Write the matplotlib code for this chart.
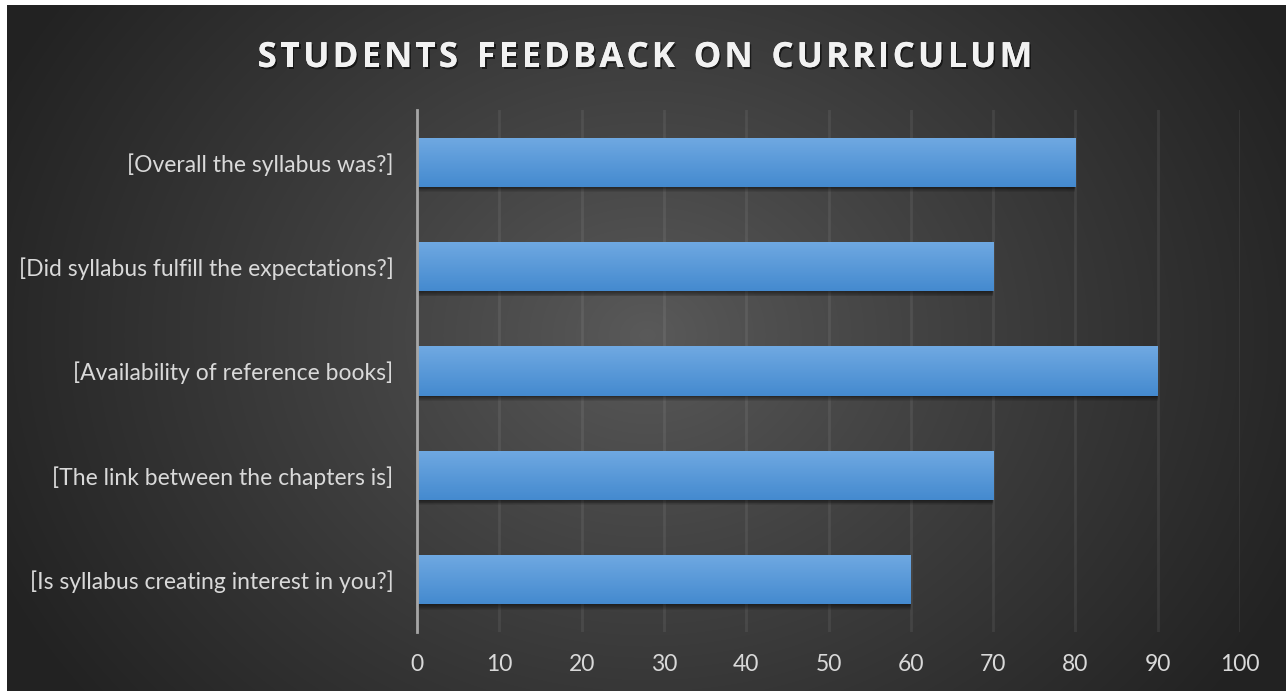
import numpy as np
import matplotlib
matplotlib.use("Agg")
import matplotlib.pyplot as plt
import matplotlib.patheffects as pe

categories = ["[Overall the syllabus was?]",
              "[Did syllabus fulfill the expectations?]",
              "[Availability of reference books]",
              "[The link between the chapters is]",
              "[Is syllabus creating interest in you?]"]
values = [80, 70, 90, 70, 60]
xticks = [0, 10, 20, 30, 40, 50, 60, 70, 80, 90, 100]
title = "STUDENTS FEEDBACK ON CURRICULUM"

W, H = 1286, 691
fig = plt.figure(figsize=(W/100, H/100), dpi=100, facecolor="white")

# background with radial gradient
bg = fig.add_axes([7/W, 0, 1-7/W, 1-5/H])
bg.set_axis_off()
yy, xx = np.mgrid[0:686, 0:1279]
cx, cy = 640, 330
r = np.sqrt(((xx-cx)/720.0)**2 + ((yy-cy)/600.0)**2)
r = np.clip(r, 0, 1)**0.9
c_in = np.array([0x5a, 0x5a, 0x5a])/255.0
c_out = np.array([0x22, 0x22, 0x22])/255.0
img = c_in[None, None, :]*(1-r[..., None]) + c_out[None, None, :]*r[..., None]
bg.imshow(img, aspect="auto", extent=[0, 1, 0, 1], origin="upper")
bg.set_xlim(0, 1); bg.set_ylim(0, 1)

ax = fig.add_axes([417/W, 1-632/H, (1240-417)/W, (632-110)/H])
ax.patch.set_alpha(0)
n = len(categories)
ypos = np.arange(n)[::-1]

bar_h = 0.47
# soft shadow
for k in range(6):
    ax.barh(ypos - 0.01 - 0.008*k, values, height=bar_h, left=0.0,
            color="black", alpha=0.09, zorder=2, edgecolor="none")
bars = ax.barh(ypos, values, height=bar_h, color="#5b9bd5", zorder=3, edgecolor="none")
grad = np.linspace(0, 1, 256)[:, None]
top = np.array([0x70, 0xa9, 0xe2])/255.0
bot = np.array([0x44, 0x8a, 0xcf])/255.0
gimg = top[None, None, :]*(1-grad[..., None]) + bot[None, None, :]*grad[..., None]
for b in bars:
    x0, y0 = b.get_x(), b.get_y()
    w, h = b.get_width(), b.get_height()
    im = ax.imshow(gimg, extent=[x0, x0+w, y0, y0+h], origin="upper", aspect="auto", zorder=4)
    im.set_clip_path(b)
ax.set_xlim(0, 100)
ax.set_ylim(-0.5, n-0.5)

ax.set_xticks(xticks)
ax.set_yticks(ypos)
ax.set_yticklabels(categories)
ax.xaxis.grid(True, color="white", alpha=0.07, linewidth=2, zorder=0)
ax.set_axisbelow(True)
for s in ["top", "right", "bottom"]:
    ax.spines[s].set_visible(False)
ax.spines["left"].set_color("#a6a6a6")
ax.spines["left"].set_linewidth(2)
ax.spines["left"].set_zorder(5)
ax.tick_params(axis="both", length=0, colors="#d9d9d9", labelsize=16.5)
ax.tick_params(axis="x", pad=16)
ax.tick_params(axis="y", pad=17)
for lab in ax.get_xticklabels() + ax.get_yticklabels():
    lab.set_family("Lato")
    lab.set_color("#d9d9d9")

# title with letter spacing
fig.canvas.draw()
renderer = fig.canvas.get_renderer()
fs = 25
spacing = 3.1
props = dict(color="#f2f2f2", fontsize=fs, fontweight="bold", family="Open Sans",
             va="baseline", ha="left",
             path_effects=[pe.withSimplePatchShadow(offset=(1.2, -1.5), shadow_rgbFace="black", alpha=0.55),
                           pe.Normal()])
widths = []
for ch in title:
    t = fig.text(0, 0, ch if ch != " " else "n", **props)
    bb = t.get_window_extent(renderer)
    w = bb.width if ch != " " else bb.width*0.55
    widths.append(w)
    t.remove()
total = sum(widths) + spacing*(len(title)-1)
x = 645 - total/2
baseline = H - 67
for ch, w in zip(title, widths):
    if ch != " ":
        fig.text(x/W, baseline/H, ch, **props)
    x += w + spacing

fig.savefig("out.png", dpi=100, facecolor="white")
